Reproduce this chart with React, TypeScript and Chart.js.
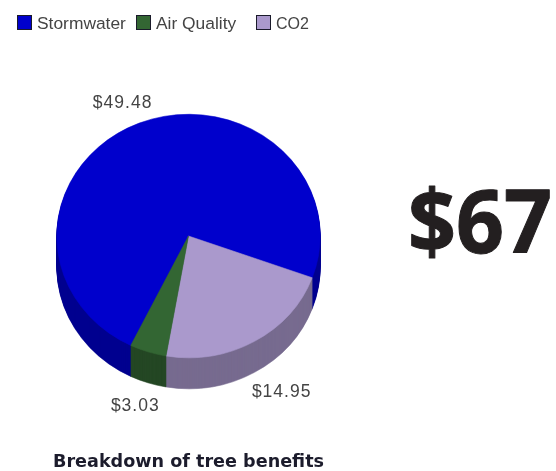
import React, { useEffect, useRef } from "react";
import { Chart, registerables } from "chart.js";

Chart.register(...registerables);

// Clockwise slice order as drawn in the picture
const categories = ["Stormwater", "CO2", "Air Quality"];
const values = [49.48, 14.95, 3.03];
const valueLabels = ["$49.48", "$14.95", "$3.03"];
const topColors = ["#0000cc", "#aa99cc", "#336633"];
const sideColors = ["#00008f", "#776b8f", "#244724"];
const legendOrder = ["Stormwater", "Air Quality", "CO2"];
const legendBoxX = [17.5, 136.5, 256.5];
const legendTextX = [37, 156, 276];
const totalLabel = "$67";
const chartTitle = "Breakdown of tree benefits";

const DEPTH = 31;
const SQUASH = 122 / 132;
const LABEL_R = 160;
const labelNudgeX = [-6, 13, -4];
const labelNudgeY = [4, -3, -2];

const pie3d = {
  id: "pie3d",
  beforeDatasetDraw(chart: any) {
    const ctx = chart.ctx;
    const arcs = chart.getDatasetMeta(0).data;
    const { x, y } = arcs[0];
    for (let d = DEPTH; d >= 1; d--) {
      ctx.save();
      ctx.translate(x, y + d);
      ctx.scale(1, SQUASH);
      ctx.translate(-x, -y);
      arcs.forEach((arc: any, i: number) => {
        const ghost = Object.create(arc);
        ghost.options = Object.assign(Object.create(arc.options), {
          backgroundColor: sideColors[i],
          borderColor: sideColors[i],
        });
        ghost.draw(ctx);
      });
      ctx.restore();
    }
    ctx.save();
    ctx.translate(x, y);
    ctx.scale(1, SQUASH);
    ctx.translate(-x, -y);
  },
  afterDatasetDraw(chart: any) {
    chart.ctx.restore();
  },
  afterDraw(chart: any) {
    const ctx = chart.ctx;
    const arcs = chart.getDatasetMeta(0).data;
    ctx.save();
    ctx.filter = "blur(0.55px)";
    ctx.textBaseline = "middle";

    // slice value labels
    ctx.font = '17.5px "Liberation Sans"';
    ctx.fillStyle = "#444444";
    ctx.textAlign = "center";
    (ctx as any).letterSpacing = "1px";
    arcs.forEach((arc: any, i: number) => {
      const mid = (arc.startAngle + arc.endAngle) / 2;
      const s = Math.sin(mid);
      const px = arc.x + Math.cos(mid) * LABEL_R + labelNudgeX[i];
      const py = arc.y + s * LABEL_R * SQUASH + (s > 0 ? DEPTH : 0) + labelNudgeY[i];
      ctx.fillText(valueLabels[i], px, py);
    });
    (ctx as any).letterSpacing = "0px";

    // legend
    ctx.textAlign = "left";
    ctx.font = '17.4px "Liberation Sans"';
    legendOrder.forEach((name, i) => {
      const idx = categories.indexOf(name);
      ctx.fillStyle = topColors[idx];
      ctx.fillRect(legendBoxX[i], 15.5, 14, 14);
      ctx.strokeStyle = "#1a1a2a";
      ctx.lineWidth = 1;
      ctx.strokeRect(legendBoxX[i], 15.5, 14, 14);
      ctx.fillStyle = "#444444";
      ctx.fillText(name, legendTextX[i], 24, name === "CO2" ? 33 : undefined as any);
    });
    ctx.restore();

    // big total
    ctx.save();
    ctx.font = 'bold 84px "Open Sans"';
    ctx.fillStyle = "#231f20";
    ctx.strokeStyle = "#231f20";
    ctx.lineWidth = 1;
    ctx.lineJoin = "round";
    ctx.textAlign = "left";
    ctx.textBaseline = "alphabetic";
    ctx.translate(408, 253);
    ctx.scale(1, 1.04);
    ctx.fillText(totalLabel, 0, 0);
    ctx.strokeText(totalLabel, 0, 0);
    ctx.restore();
  },
};

export default function App() {
  const ref = useRef<HTMLCanvasElement>(null);
  useEffect(() => {
    const chart = new Chart(ref.current!, {
      type: "pie",
      data: {
        labels: categories,
        datasets: [
          {
            data: values,
            backgroundColor: topColors,
            borderColor: topColors,
            borderWidth: 0.6,
          },
        ],
      },
      options: {
        responsive: false,
        animation: false,
        rotation: 206,
        layout: { padding: { top: 104, right: 179, left: 0, bottom: 0 } },
        plugins: {
          legend: { display: false },
          tooltip: { enabled: false },
          title: {
            display: true,
            position: "bottom",
            text: chartTitle,
            color: "#1c1c2c",
            font: { family: '"DejaVu Sans"', size: 17.6, weight: "bold", lineHeight: 20 / 17.6 },
            padding: { top: 84, bottom: -1 },
          },
        },
      },
      plugins: [pie3d],
    } as any);
    return () => chart.destroy();
  }, []);
  return (
    <div style={{ position: "fixed", left: 0, top: 0, width: 556, height: 471, background: "#fff" }}>
      <canvas ref={ref} width={556} height={471} style={{ display: "block" }} />
    </div>
  );
}
